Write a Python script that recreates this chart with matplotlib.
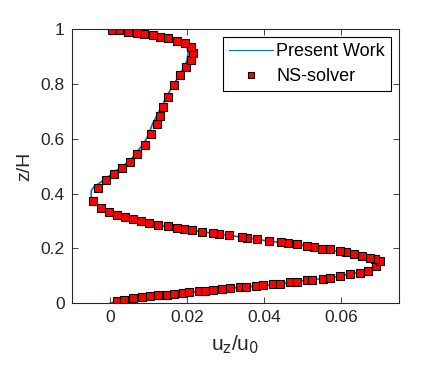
import matplotlib
matplotlib.use('Agg')
import matplotlib.pyplot as plt

plt.rcParams['font.family'] = ['Liberation Sans', 'DejaVu Sans']
plt.rcParams['mathtext.default'] = 'regular'

# NS-solver points (u_z/u_0, z/H), bottom to top
ns_u = [0.0018, 0.0036, 0.0060, 0.0083, 0.0104, 0.0125, 0.0148, 0.0166, 0.0190, 0.0206,
        0.0232, 0.0247, 0.0268, 0.0291, 0.0312, 0.0338, 0.0354, 0.0380, 0.0398, 0.0424,
        0.0442, 0.0467, 0.0486, 0.0511, 0.0526, 0.0554, 0.0572, 0.0598, 0.0624, 0.0650,
        0.0671, 0.0692, 0.0702,
        0.0689, 0.0676, 0.0656, 0.0635, 0.0614, 0.0597, 0.0572, 0.0551, 0.0531, 0.0511,
        0.0486, 0.0463, 0.0445, 0.0414, 0.0383, 0.0357, 0.0342, 0.0310, 0.0284, 0.0268,
        0.0239, 0.0214, 0.0193, 0.0174, 0.0151, 0.0125, 0.0101, 0.0081, 0.0060, 0.0039,
        0.0018, -0.0003, -0.0023, -0.0044, -0.0031, -0.0010, 0.0010, 0.0031, 0.0052,
        0.0070, 0.0091, 0.0106, 0.0122, 0.0129, 0.0138, 0.0151, 0.0166, 0.0182, 0.0198,
        0.0211, 0.0216, 0.0211, 0.0196, 0.0174, 0.0151, 0.0130, 0.0112, 0.0088, 0.0069,
        0.0047, 0.0023, 0.0004]
ns_z = [0.006, 0.011, 0.017, 0.021, 0.025, 0.029, 0.030, 0.033, 0.036, 0.040,
        0.044, 0.044, 0.047, 0.051, 0.054, 0.058, 0.058, 0.062, 0.065, 0.069,
        0.069, 0.076, 0.076, 0.084, 0.084, 0.087, 0.091, 0.098, 0.106, 0.109,
        0.117, 0.135, 0.153,
        0.160, 0.164, 0.171, 0.179, 0.186, 0.190, 0.197, 0.197, 0.205, 0.209,
        0.215, 0.219, 0.222, 0.226, 0.233, 0.237, 0.241, 0.248, 0.252, 0.255,
        0.259, 0.266, 0.270, 0.274, 0.281, 0.285, 0.292, 0.299, 0.306, 0.314,
        0.322, 0.332, 0.347, 0.372, 0.420, 0.449, 0.471, 0.493, 0.515,
        0.544, 0.577, 0.617, 0.653, 0.683, 0.718, 0.754, 0.795, 0.832, 0.862,
        0.887, 0.913, 0.934, 0.949, 0.959, 0.967, 0.972, 0.979, 0.982, 0.985,
        0.989, 0.997, 0.997]

# Present Work curve
pw_u = [0.0, 0.0017, 0.0060, 0.0104, 0.0148, 0.0190, 0.0247, 0.0312, 0.0380, 0.0442,
        0.0511, 0.0572, 0.0624, 0.0671, 0.0694, 0.0703, 0.0689, 0.0656, 0.0614,
        0.0551, 0.0486, 0.0414, 0.0342, 0.0268, 0.0193, 0.0125, 0.0060, 0.0018,
        -0.0003, -0.0024, -0.0040, -0.0049, -0.0049, -0.0042, -0.0031, -0.0010,
        0.0010, 0.0031, 0.0052, 0.0064, 0.0080, 0.0093, 0.0101, 0.0110, 0.0121,
        0.0134, 0.0147, 0.0163, 0.0180, 0.0192, 0.0200, 0.0203, 0.0200, 0.0192,
        0.0173, 0.0150, 0.0111, 0.0069, 0.0046, 0.0023, 0.0]
pw_z = [0.0, 0.006, 0.017, 0.025, 0.030, 0.036, 0.044, 0.054, 0.062, 0.069,
        0.084, 0.091, 0.106, 0.117, 0.128, 0.150, 0.160, 0.171, 0.186,
        0.197, 0.215, 0.226, 0.241, 0.255, 0.270, 0.285, 0.306, 0.322,
        0.332, 0.347, 0.366, 0.388, 0.410, 0.425, 0.435, 0.456,
        0.478, 0.499, 0.519, 0.543, 0.570, 0.596, 0.620, 0.654, 0.683,
        0.718, 0.754, 0.794, 0.831, 0.862, 0.887, 0.913, 0.933, 0.949,
        0.959, 0.967, 0.979, 0.985, 0.989, 0.996, 1.0]

fig = plt.figure(figsize=(4.24, 3.76), dpi=100)
ax = fig.add_axes([0.169, 0.194, 0.771, 0.728])

ax.plot(pw_u, pw_z, color='#0072BD', lw=1.2, label='Present Work')
ax.plot(ns_u, ns_z, 's', color='red', markeredgecolor='black', markersize=5.5,
        markeredgewidth=0.8, label='NS-solver')

ax.set_xlim(-0.01, 0.075)
ax.set_ylim(0, 1)
ax.set_xticks([0, 0.02, 0.04, 0.06])
ax.set_xticklabels(['0', '0.02', '0.04', '0.06'])
ax.set_yticks([0, 0.2, 0.4, 0.6, 0.8, 1])
ax.set_yticklabels(['0', '0.2', '0.4', '0.6', '0.8', '1'])
ax.tick_params(direction='in', top=True, right=True, labelsize=12.5,
               colors='#262626', length=4, width=0.6, pad=5)
for s in ax.spines.values():
    s.set_color('#262626')
    s.set_linewidth(0.8)

ax.set_xlabel(r'u$_{\mathsf{z}}$/u$_{\mathsf{0}}$', fontsize=15, color='#262626', labelpad=6)
ax.set_ylabel('z/H', fontsize=14, color='#262626', labelpad=5)

leg = ax.legend(loc='upper right', fontsize=13, fancybox=False, edgecolor='black',
                framealpha=1, borderaxespad=0.4, handlelength=2.4, handletextpad=0.2,
                borderpad=0.35, labelspacing=0.45, markerscale=0.8)
leg.get_frame().set_linewidth(0.8)
leg.get_lines()[0].set_linewidth(0.8)

fig.savefig('out.png', dpi=100)
